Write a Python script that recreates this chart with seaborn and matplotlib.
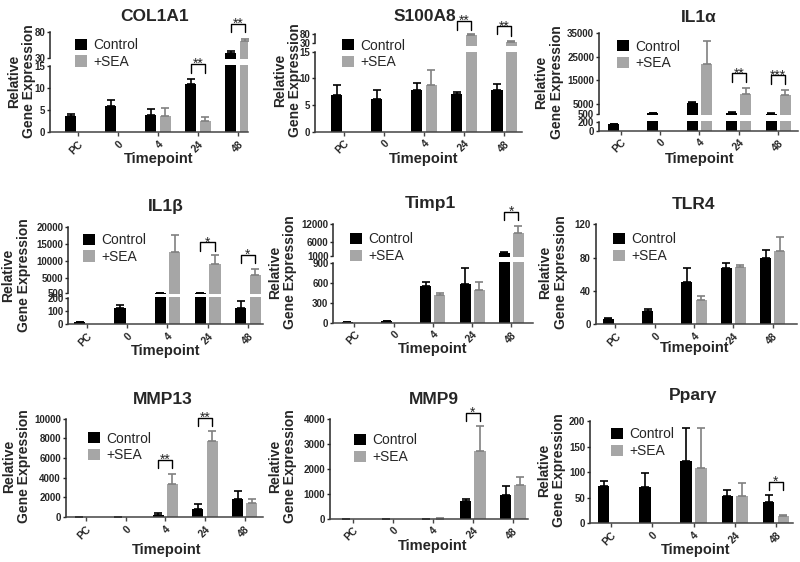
import numpy as np
import pandas as pd
import matplotlib
matplotlib.use('Agg')
import matplotlib.pyplot as plt
from matplotlib.patches import Patch
import seaborn as sns

nan = np.nan
timepoints = ['PC', '0', '4', '24', '48']
groups = ['Control', '+SEA']

# values (mean, SEM)
col1a1_ctrl = [3.6, 5.9, 4.0, 11.0, 39.6]
col1a1_ctrl_err = [0.6, 1.5, 1.3, 1.1, 4.0]
col1a1_sea = [nan, nan, 3.8, 2.6, 64.0]
col1a1_sea_err = [nan, nan, 1.8, 0.9, 3.0]

s100a8_ctrl = [6.9, 6.2, 7.75, 7.05, 7.8]
s100a8_ctrl_err = [1.85, 1.55, 1.45, 0.35, 1.1]
s100a8_sea = [nan, nan, 8.75, 76.0, 38.0]
s100a8_sea_err = [nan, nan, 2.85, 6.0, 4.0]

il1a_ctrl = [150, 1000, 5550, 1200, 800]
il1a_ctrl_err = [15, 150, 300, 250, 100]
il1a_sea = [nan, nan, 22150, 9350, 8600]
il1a_sea_err = [nan, nan, 9500, 2550, 2150]

il1b_ctrl = [15, 125, 550, 530, 120]
il1b_ctrl_err = [4, 25, 50, 40, 60]
il1b_sea = [nan, nan, 12700, 9100, 5700]
il1b_sea_err = [nan, nan, 5100, 2700, 2000]

timp1_ctrl = [8, 25, 555, 590, 2200]
timp1_ctrl_err = [2, 8, 55, 235, 330]
timp1_sea = [nan, nan, 420, 490, 9050]
timp1_sea_err = [nan, nan, 25, 120, 2250]

tlr4_ctrl = [6, 16.4, 51, 67, 80]
tlr4_ctrl_err = [1, 2, 16, 6, 9]
tlr4_sea = [nan, nan, 29, 68.4, 88.4]
tlr4_sea_err = [nan, nan, 5.5, 2.6, 16.6]

mmp13_ctrl = [5, 20, 240, 850, 1860]
mmp13_ctrl_err = [2, 5, 130, 470, 750]
mmp13_sea = [nan, nan, 3360, 7700, 1420]
mmp13_sea_err = [nan, nan, 1010, 1050, 410]

mmp9_ctrl = [2, 3, 6, 700, 966]
mmp9_ctrl_err = [1, 1, 2, 105, 334]
mmp9_sea = [nan, nan, 8, 2710, 1340]
mmp9_sea_err = [nan, nan, 2, 1010, 350]

pparg_ctrl = [72, 71, 121, 54, 41]
pparg_ctrl_err = [11, 28, 66, 10, 15]
pparg_sea = [nan, nan, 109, 54, 14.4]
pparg_sea_err = [nan, nan, 78, 25, 2]

# significance brackets: (timepoint index, stars, bracket top, left leg, right leg)
col1a1_sig = [(3, '**', 15.6, 13.5, 13.5), (4, '**', 97, 81, 81)]
s100a8_sig = [(3, '**', 151, 100, 100), (4, '**', 123, 80, 70)]
il1a_sig = [(3, '**', 17900, 14300, 14300), (4, '***', 17150, 13300, 13300)]
il1b_sig = [(3, '*', 15600, 13000, 13000), (4, '*', 11800, 9500, 9500)]
timp1_sig = [(4, '*', 16160, 13400, 13400)]
tlr4_sig = []
mmp13_sig = [(2, '**', 5830, 5010, 5010), (3, '**', 10070, 9220, 9220)]
mmp9_sig = [(3, '*', 4265, 3930, 3930)]
pparg_sig = [(4, '*', 80.6, 65.5, 65.5)]

CTRL = '#000000'
SEA = '#a6a6a6'
SEA_ERR = '#808080'
W, H = 800, 562

sns.set_style('ticks')
plt.rcParams['font.family'] = ['Liberation Sans', 'DejaVu Sans']

# layout in pixels; segments = (bottom px, top px, ymin, ymax, ticks)
panels = [
    ('COL1A1', col1a1_ctrl, col1a1_ctrl_err, col1a1_sea, col1a1_sea_err, col1a1_sig,
     dict(x=(50, 248), xlim=(-0.7, 4.25),
          segs=[(132.3, 65, 0, 15.3, [0, 5, 10, 15]), (59.3, 31.3, 28, 82, [30, 80])],
          title=(155, 20.7), xlab=(158.5, 162.7), ylab=(21.5, 81), leg=(75, 40))),
    ('S100A8', s100a8_ctrl, s100a8_ctrl_err, s100a8_sea, s100a8_sea_err, s100a8_sig,
     dict(x=(315, 521.7), xlim=(-0.725, 4.44),
          segs=[(131.7, 51.7, 0, 15, [0, 5, 10, 15]), (46, 33.3, 15, 84, [30, 80])],
          title=(425, 20.7), xlab=(424, 162.7), ylab=(287.5, 80), leg=(341.7, 40.7))),
    ('IL1α', il1a_ctrl, il1a_ctrl_err, il1a_sea, il1a_sea_err, il1a_sig,
     dict(x=(599, 798.3), xlim=(-0.55, 4.51),
          segs=[(130.7, 120.7, 0, 240, [0, 200]),
                (115, 33.3, 240, 35000, [500, 5000, 15000, 25000, 35000])],
          title=(698.5, 21.7), xlab=(700, 163.3), ylab=(549, 82.5), leg=(617.3, 41.7))),
    ('IL1β', il1b_ctrl, il1b_ctrl_err, il1b_sea, il1b_sea_err, il1b_sig,
     dict(x=(68.3, 263.3), xlim=(-0.46, 4.38),
          segs=[(324, 296.7, 0, 210, [0, 100, 200]),
                (294, 227.3, 210, 20000, [500, 5000, 10000, 15000, 20000])],
          title=(166, 211), xlab=(166, 355), ylab=(16, 275), leg=(83.3, 235))),
    ('Timp1', timp1_ctrl, timp1_ctrl_err, timp1_sea, timp1_sea_err, timp1_sig,
     dict(x=(333.3, 533.3), xlim=(-0.54, 4.56),
          segs=[(322.7, 262.3, 0, 915, [0, 300, 600, 900]),
                (256.7, 224, 915, 12000, [1000, 6000, 12000])],
          title=(430, 207.7), xlab=(432.5, 353.3), ylab=(282.5, 272), leg=(350, 234.3))),
    ('TLR4', tlr4_ctrl, tlr4_ctrl_err, tlr4_sea, tlr4_sea_err, tlr4_sig,
     dict(x=(595.7, 796.7), xlim=(-0.5, 4.61),
          segs=[(324.3, 224.3, 0, 120, [0, 40, 80, 120])],
          title=(694, 209), xlab=(695, 351.7), ylab=(553, 272), leg=(612.7, 234.3))),
    ('MMP13', mmp13_ctrl, mmp13_ctrl_err, mmp13_sea, mmp13_sea_err, mmp13_sig,
     dict(x=(65.7, 263.3), xlim=(-0.51, 4.47),
          segs=[(517, 418.7, 0, 10000, [0, 2000, 4000, 6000, 8000, 10000])],
          title=(163, 403.7), xlab=(166.5, 553.7), ylab=(16.5, 466), leg=(88.3, 433.7))),
    ('MMP9', mmp9_ctrl, mmp9_ctrl_err, mmp9_sea, mmp9_sea_err, mmp9_sig,
     dict(x=(330, 528.3), xlim=(-0.57, 4.39),
          segs=[(518.7, 419.3, 0, 4000, [0, 1000, 2000, 3000, 4000])],
          title=(433.5, 403.7), xlab=(432.5, 550.3), ylab=(282.5, 466), leg=(354.3, 435.3))),
    ('Pparγ', pparg_ctrl, pparg_ctrl_err, pparg_sea, pparg_sea_err, pparg_sig,
     dict(x=(590, 793.3), xlim=(-0.51, 4.42),
          segs=[(523, 421.3, 0, 200, [0, 50, 100, 150, 200])],
          title=(693.5, 400.3), xlab=(696, 553.7), ylab=(551.5, 470), leg=(610.7, 429.3))),
]

fig = plt.figure(figsize=(8, 5.62), dpi=100)


def fpos(px, py):
    return px / W, 1 - py / H


def draw_panel(name, ctrl, ctrl_err, sea, sea_err, sig, lay):
    df = pd.DataFrame({
        'Timepoint': timepoints * 2,
        'Group': ['Control'] * 5 + ['+SEA'] * 5,
        'Expression': list(ctrl) + list(sea),
    }).dropna()
    err_tab = {}
    for t, e in zip(timepoints, ctrl_err):
        err_tab[('Control', t)] = e
    for t, e in zip(timepoints, sea_err):
        err_tab[('+SEA', t)] = e

    x0, x1 = lay['x']
    segs = lay['segs']
    seg_axes = []
    for i, (pb, pt, lo, hi, ticks) in enumerate(segs):
        top = i == len(segs) - 1
        ax = fig.add_axes([x0 / W, 1 - pb / H, (x1 - x0) / W, (pb - pt) / H])
        sns.barplot(data=df, x='Timepoint', y='Expression', hue='Group',
                    order=timepoints, hue_order=groups, palette=[CTRL, SEA],
                    width=0.72, gap=0.22, errorbar=None, saturation=1,
                    linewidth=0, legend=False, ax=ax)
        ax.set_xlim(*lay['xlim'])
        ax.set_ylim(lo, hi)
        ax.set_xlabel('')
        ax.set_ylabel('')
        ax.set_facecolor('none')
        prev_hi = segs[i - 1][3] if i > 0 else -np.inf
        centers = {}
        for cont, grp in zip(ax.containers, groups):
            ecol = CTRL if grp == 'Control' else SEA_ERR
            for bar in cont:
                h = bar.get_height()
                if np.isnan(h):
                    continue
                xc = bar.get_x() + bar.get_width() / 2
                k = int(round(xc))
                centers[(grp, k)] = xc
                if prev_hi < h <= hi or (top and h > prev_hi):
                    eb = ax.errorbar(xc, h, yerr=[[0], [err_tab[(grp, timepoints[k])]]],
                                     fmt='none', ecolor=ecol, elinewidth=1.2,
                                     capsize=3, capthick=1.2)
                    for art in eb.get_children():
                        art.set_clip_on(not top)
        for sp in ['top', 'right']:
            ax.spines[sp].set_visible(False)
        ax.spines['left'].set_bounds(ticks[0], ticks[-1])
        ax.spines['left'].set_linewidth(1.1)
        ax.set_yticks(ticks)
        ax.set_yticklabels([str(t) for t in ticks], fontsize=7, fontweight='bold')
        ax.tick_params(axis='y', length=2.5, width=1, pad=1)
        if i == 0:
            ax.spines['bottom'].set_color('#444444')
            ax.spines['bottom'].set_linewidth(1.1)
            ax.set_xticks(range(len(timepoints)))
            ax.set_xticklabels(timepoints, rotation=45, ha='right', va='top',
                               rotation_mode='anchor', fontsize=7.5, fontweight='bold')
            ax.tick_params(axis='x', length=3, width=1, pad=2, color='#444444')
        else:
            ax.spines['bottom'].set_visible(False)
            ax.tick_params(axis='x', bottom=False, labelbottom=False)
        seg_axes.append((ax, lo, hi, centers))

    # significance brackets
    for k, stars, ytop, yl, yr in sig:
        ax, lo, hi, centers = seg_axes[-1]
        for cand in seg_axes:
            if cand[1] <= min(yl, yr) <= cand[2]:
                ax, lo, hi, centers = cand
                break
        xl = centers.get(('Control', k), k - 0.18)
        xr = centers.get(('+SEA', k), k + 0.18)
        ax.plot([xl, xl, xr, xr], [yl, ytop, ytop, yr], color='black', lw=1,
                clip_on=False)
        ax.annotate(stars, xy=((xl + xr) / 2, ytop), xytext=(0, -3),
                    textcoords='offset points', ha='center', va='baseline',
                    fontsize=10, annotation_clip=False)

    fig.text(*fpos(*lay['title']), name, ha='center', va='baseline',
             fontsize=12.5, fontweight='bold')
    fig.text(*fpos(*lay['xlab']), 'Timepoint', ha='center', va='baseline',
             fontsize=10.5, fontweight='bold')
    fig.text(*fpos(*lay['ylab']), 'Relative\nGene Expression', rotation=90,
             ha='center', va='center', multialignment='center', linespacing=1.1,
             fontsize=10, fontweight='bold')
    lx, ly = lay['leg']
    handles = [Patch(facecolor=CTRL, edgecolor='none'), Patch(facecolor=SEA, edgecolor='none')]
    fig.legend(handles, groups, loc='upper left', bbox_to_anchor=fpos(lx, ly - 2),
               bbox_transform=fig.transFigure, frameon=False, fontsize=10,
               handlelength=0.86, handleheight=0.86, handletextpad=0.45,
               labelspacing=0.2, borderpad=0, borderaxespad=0)


for p in panels:
    draw_panel(*p)

fig.savefig('out.png', dpi=100)
